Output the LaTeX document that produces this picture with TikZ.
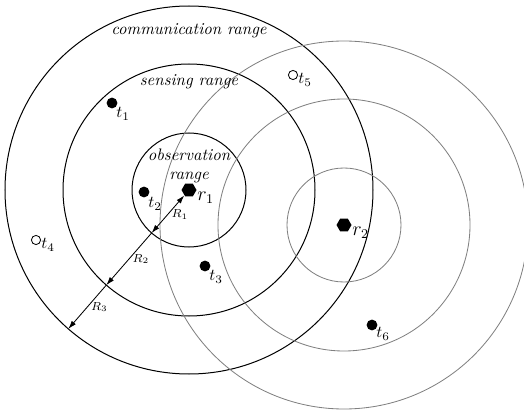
\documentclass[tikz,border=0pt]{standalone}
\usetikzlibrary{shapes.geometric,arrows.meta}
\tikzset{
  rng/.style={draw=black,line width=0.6pt},
  grng/.style={draw=black!50,line width=0.5pt},
  target/.style={circle,fill=black,inner sep=0pt,minimum size=6.5pt},
  otarget/.style={circle,draw=black,fill=white,line width=0.5pt,inner sep=0pt,minimum size=5.5pt},
  robot/.style={regular polygon,regular polygon sides=6,fill=black,inner sep=0pt,minimum size=9pt},
  lbl/.style={inner sep=0pt},
  rrlbl/.style={inner sep=0pt,font=\large},
  rlbl/.style={inner sep=1pt,font=\scriptsize},
  tip/.style={},
  arr/.style={line width=0.5pt,-{Latex[length=5pt,width=3.2pt]}}
}
\begin{document}
\begin{tikzpicture}[x=0.6pt,y=-0.6pt]
\useasboundingbox (0,0) rectangle (524,411);
% robots
\node[robot] (r1) at (189,190) {};
\node[robot] (r2) at (344,225) {};
% ranges of r1
\draw[rng] (r1.center) circle[radius=57];
\draw[rng] (r1.center) circle[radius=126];
\draw[rng] (r1.center) circle[radius=184];
% ranges of r2
\draw[grng] (r2.center) circle[radius=57];
\draw[grng] (r2.center) circle[radius=126];
\draw[grng] (r2.center) circle[radius=184];
% range labels
\node[lbl,align=center,font=\itshape,text width=60pt] at (189,166) {observation\\[-1pt] range};
\node[lbl,font=\itshape] at (189,82) {sensing range};
\node[lbl,font=\itshape] at (189,31) {communication range};
% radius arrows
\coordinate (p1) at ([shift={(-37.4,43.0)}]r1.center);
\coordinate (p2) at ([shift={(-82.7,95.1)}]r1.center);
\coordinate (p3) at ([shift={(-120.7,138.9)}]r1.center);
\draw[arr,{Latex[length=5pt,width=3.2pt]}-{Latex[length=5pt,width=3.2pt]}] (r1) -- (p1) node[rlbl,midway,right=1pt] {$R_1$};
\draw[arr] (p1) -- (p2) node[rlbl,midway,right=1pt] {$R_2$};
\draw[arr] (p2) -- (p3) node[rlbl,midway,right=1pt] {$R_3$};
% robot labels
\node[rrlbl,anchor=west] at (197,198) {$r_1$};
\node[rrlbl,anchor=west] at (352,233) {$r_2$};
% targets
\node[target] (t1) at (112,103) {};
\node[lbl,anchor=west] at (116,114) {$t_1$};
\node[target] (t2) at (144,192) {};
\node[lbl,anchor=west] at (148,204) {$t_2$};
\node[target] (t3) at (205,266) {};
\node[lbl,anchor=west] at (209,277) {$t_3$};
\node[otarget] (t4) at (36,240) {};
\node[lbl,anchor=west] at (41,245) {$t_4$};
\node[otarget] (t5) at (293,75) {};
\node[lbl,anchor=west] at (298,80) {$t_5$};
\node[target] (t6) at (372,325) {};
\node[lbl,anchor=west] at (376,334) {$t_6$};
\end{tikzpicture}
\end{document}
